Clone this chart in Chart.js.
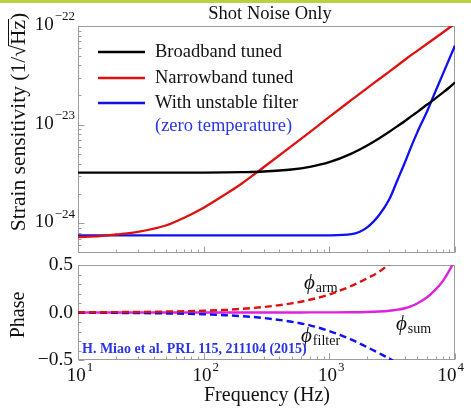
<!DOCTYPE html>
<html><head><meta charset="utf-8">
<script src="https://cdn.jsdelivr.net/npm/chart.js@4.4.1/dist/chart.umd.min.js"></script>
<style>
html,body{margin:0;padding:0;background:#fff;}
#wrap{position:relative;width:471px;height:408px;overflow:hidden;background:#fff;}
#band{position:absolute;left:0;top:0;width:471px;height:3px;background:#b9d23e;}
canvas{position:absolute;left:0;top:0;}
</style></head><body>
<div id="wrap"><div id="band"></div>
<canvas id="strain" width="471" height="408"></canvas>
<canvas id="phase" width="471" height="408"></canvas>
</div>
<script>
// Frequency grid (Hz)
const freq = [10, 15, 20, 30, 50, 70, 100, 150, 200, 300, 500, 700, 1000, 1500, 2000, 2500, 3000, 3500, 4000, 4500, 5000, 6000, 7000, 8000, 9000, 10000];

// Strain sensitivity, 1/sqrt(Hz)
const broadband = [3.26e-24, 3.26e-24, 3.26e-24, 3.26e-24, 3.26e-24, 3.27e-24, 3.27e-24, 3.28e-24, 3.30e-24, 3.35e-24, 3.51e-24, 3.74e-24, 4.17e-24, 5.09e-24, 6.15e-24, 7.29e-24, 8.48e-24, 9.69e-24, 1.09e-23, 1.22e-23, 1.34e-23, 1.60e-23, 1.85e-23, 2.11e-23, 2.38e-23, 2.68e-23];
const narrowband = [7.26e-25, 7.4e-25, 7.7e-25, 8.2e-25, 9.5e-25, 1.14e-24, 1.44e-24, 1.98e-24, 2.52e-24, 3.7e-24, 6.05e-24, 8.4e-24, 1.2e-23, 1.78e-23, 2.35e-23, 2.9e-23, 3.45e-23, 4.0e-23, 4.55e-23, 5.1e-23, 5.6e-23, 6.6e-23, 7.6e-23, 8.6e-23, 9.6e-23, 1.06e-22];
const unstableFilter = [7.55e-25, 7.55e-25, 7.55e-25, 7.55e-25, 7.55e-25, 7.55e-25, 7.55e-25, 7.55e-25, 7.55e-25, 7.55e-25, 7.55e-25, 7.55e-25, 7.56e-25, 7.75e-25, 9.1e-25, 1.22e-24, 1.75e-24, 2.78e-24, 4.16e-24, 6.06e-24, 8.3e-24, 1.37e-23, 2.18e-23, 3.25e-23, 4.63e-23, 6.35e-23];

// Phases (rad)
const phiArm = [0.002, 0.003, 0.004, 0.006, 0.010, 0.013, 0.019, 0.028, 0.038, 0.058, 0.096, 0.134, 0.19, 0.28, 0.36, 0.43, 0.51, 0.58, null, null, null, null, null, null, null, null];
const phiFilter = [-0.002, -0.003, -0.004, -0.006, -0.010, -0.013, -0.019, -0.029, -0.038, -0.058, -0.097, -0.135, -0.195, -0.285, -0.365, -0.43, -0.485, -0.54, null, null, null, null, null, null, null, null];
const phiSum = [0, 0, 0, 0, 0, 0, 0, 0, 0, 0, 0.0005, 0.0008, 0.001, 0.002, 0.005, 0.010, 0.018, 0.030, 0.045, 0.068, 0.095, 0.16, 0.24, 0.33, 0.44, 0.56];

// Axis ticks
const strainTicks = [1e-24, 1e-23, 1e-22];
const freqTicks = [10, 100, 1000, 10000];
const phaseTicks = [-0.5, 0, 0.5];

const SERIF = '"Liberation Serif", "Times New Roman", serif';
const FRAME = '#9c9c9c';
const BLACK = '#000000', RED = '#e01010', BLUE = '#1010f0', MAGENTA = '#dd22dd';
const LABEL_BLUE = '#2a35e6';

function pts(ys) {
  const out = [];
  ys.forEach((y, i) => { if (y !== null) out.push({x: freq[i], y}); });
  return out;
}

function logMinors(min, max) {
  const v = [];
  for (let e = Math.floor(Math.log10(min)) - 1; e <= Math.ceil(Math.log10(max)); e++) {
    for (let k = 2; k <= 9; k++) {
      const t = k * Math.pow(10, e);
      if (t > min * 1.0001 && t < max * 0.9999) v.push(t);
    }
  }
  return v;
}

function frameAndTicks(chart, yMajor, yMinor) {
  const {ctx, chartArea: a} = chart;
  const xs = chart.scales.x, ys = chart.scales.y;
  const L = Math.round(a.left) + 0.5, R = Math.round(a.right) - 0.5;
  const T = Math.round(a.top) + 0.5, B = Math.round(a.bottom) - 0.5;
  ctx.save();
  ctx.strokeStyle = FRAME;
  ctx.lineWidth = 1;
  ctx.strokeRect(L, T, R - L, B - T);
  ctx.beginPath();
  freqTicks.forEach(v => { const p = Math.round(xs.getPixelForValue(v)) + 0.5; ctx.moveTo(p, B); ctx.lineTo(p, B - 6); });
  logMinors(xs.min, xs.max).forEach(v => { const p = Math.round(xs.getPixelForValue(v)) + 0.5; ctx.moveTo(p, B); ctx.lineTo(p, B - 3); });
  yMajor.forEach(v => { const p = Math.round(ys.getPixelForValue(v)) + 0.5; ctx.moveTo(L, p); ctx.lineTo(L + 6, p); });
  yMinor.forEach(v => { const p = Math.round(ys.getPixelForValue(v)) + 0.5; ctx.moveTo(L, p); ctx.lineTo(L + 3, p); });
  ctx.stroke();
  ctx.restore();
}

// "10" with a raised exponent
function powLabel(ctx, exp, x, y, align, maxRight) {
  ctx.save();
  ctx.fillStyle = '#111';
  ctx.textBaseline = 'middle';
  ctx.textAlign = 'left';
  ctx.font = '19px ' + SERIF;
  const wb = ctx.measureText('10').width;
  ctx.font = '13px ' + SERIF;
  const we = ctx.measureText(exp).width;
  const total = wb + we + 1;
  let x0 = align === 'right' ? x - total : x - total / 2;
  if (maxRight !== undefined && x0 + total > maxRight) x0 = maxRight - total;
  ctx.font = '19px ' + SERIF;
  ctx.fillText('10', x0, y);
  ctx.font = '13px ' + SERIF;
  ctx.fillText(exp, x0 + wb + 1, y - 8);
  ctx.restore();
}

function sup(n) { return String(n).replace('-', '\u2212'); }

const strainDecor = {
  id: 'strainDecor',
  beforeDatasetsDraw(chart) {
    const ys = chart.scales.y;
    frameAndTicks(chart, strainTicks, logMinors(ys.min, ys.max));
  },
  afterDatasetsDraw(chart) {
    const {ctx} = chart;
    const ys = chart.scales.y;
    strainTicks.forEach(v => powLabel(ctx, sup(Math.round(Math.log10(v))), 75, ys.getPixelForValue(v) - 1, 'right'));

    ctx.save();
    // title
    ctx.fillStyle = '#111';
    ctx.font = '18.5px ' + SERIF;
    ctx.textAlign = 'center';
    ctx.textBaseline = 'middle';
    ctx.fillText('Shot Noise Only', 270, 14);

    // y axis title with sqrt overline
    ctx.translate(19, 122);
    ctx.rotate(-Math.PI / 2);
    ctx.font = '21.5px ' + SERIF;
    ctx.textAlign = 'left';
    const parts = ['Strain sensitivity (1/', '\u221A', 'Hz', ')'];
    const widths = parts.map(p => ctx.measureText(p).width);
    let x = -widths.reduce((s, w) => s + w, 0) / 2;
    parts.forEach((p, i) => {
      ctx.fillText(p, x, 0);
      if (i === 2) {
        ctx.fillRect(x - 1, -11, widths[2] + 2, 1);
      }
      x += widths[i];
    });
    ctx.restore();

    // legend
    ctx.save();
    const entries = chart.data.datasets;
    ctx.font = '18.5px ' + SERIF;
    ctx.textBaseline = 'middle';
    ctx.textAlign = 'left';
    const rows = [52, 78, 103];
    entries.forEach((ds, i) => {
      ctx.strokeStyle = ds.borderColor;
      ctx.lineWidth = 2.3;
      ctx.beginPath();
      ctx.moveTo(98, rows[i]);
      ctx.lineTo(145, rows[i]);
      ctx.stroke();
      ctx.fillStyle = '#111';
      ctx.fillText(ds.label, 155, rows[i]);
    });
    ctx.fillStyle = LABEL_BLUE;
    ctx.fillText('(zero temperature)', 155, 126);
    ctx.restore();
  }
};

function phiLabel(ctx, sub, x, y) {
  ctx.save();
  ctx.fillStyle = '#111';
  ctx.textBaseline = 'middle';
  ctx.textAlign = 'left';
  ctx.font = 'italic 21px ' + SERIF;
  ctx.fillText('\u03D5', x, y);
  const w = ctx.measureText('\u03D5').width;
  ctx.font = '14px ' + SERIF;
  ctx.fillText(sub, x + w + 1, y + 5);
  ctx.restore();
}

const phaseDecor = {
  id: 'phaseDecor',
  beforeDatasetsDraw(chart) {
    const minors = [];
    for (let k = -4; k <= 4; k++) if (k !== 0) minors.push(k / 10);
    frameAndTicks(chart, phaseTicks, minors);
  },
  afterDatasetsDraw(chart) {
    const {ctx} = chart;
    const xs = chart.scales.x, ys = chart.scales.y;
    ctx.save();
    ctx.fillStyle = '#111';
    ctx.font = '19.5px ' + SERIF;
    ctx.textAlign = 'right';
    ctx.textBaseline = 'middle';
    phaseTicks.forEach(v => {
      const s = v === 0 ? '0.0' : (v < 0 ? '\u2212' : '') + Math.abs(v).toFixed(1);
      ctx.fillText(s, 73, ys.getPixelForValue(v));
    });
    ctx.restore();

    freqTicks.forEach(v => powLabel(ctx, String(Math.round(Math.log10(v))), xs.getPixelForValue(v) + 2, 376, 'center', 464));

    ctx.save();
    ctx.fillStyle = '#111';
    ctx.font = '20px ' + SERIF;
    ctx.textAlign = 'center';
    ctx.textBaseline = 'middle';
    ctx.fillText('Frequency (Hz)', 267, 396);
    ctx.translate(19, 315);
    ctx.rotate(-Math.PI / 2);
    ctx.fillText('Phase', 0, 0);
    ctx.restore();

    phiLabel(ctx, 'arm', 304, 283);
    phiLabel(ctx, 'sum', 396, 324);
    phiLabel(ctx, 'filter', 301, 336);

    ctx.save();
    ctx.fillStyle = LABEL_BLUE;
    ctx.font = 'bold 14px ' + SERIF;
    ctx.textAlign = 'left';
    ctx.textBaseline = 'middle';
    ctx.fillText('H. Miao et al. PRL 115, 211104 (2015)', 82, 349);
    ctx.restore();
  }
};

const hiddenScale = (type, min, max) => ({
  type, min, max, display: false
});

new Chart(document.getElementById('strain'), {
  type: 'line',
  data: {
    datasets: [
      {label: 'Broadband tuned', data: pts(broadband), borderColor: BLACK},
      {label: 'Narrowband tuned', data: pts(narrowband), borderColor: RED},
      {label: 'With unstable filter', data: pts(unstableFilter), borderColor: BLUE}
    ]
  },
  options: {
    responsive: false, animation: false, devicePixelRatio: 1,
    elements: {
      line: {borderWidth: 2.3, cubicInterpolationMode: 'monotone', fill: false},
      point: {radius: 0, hoverRadius: 0}
    },
    layout: {padding: {left: 78, top: 26, right: 16, bottom: 155}},
    scales: {
      x: hiddenScale('logarithmic', 10, 10000),
      y: hiddenScale('logarithmic', 5e-25, 1e-22)
    },
    plugins: {legend: {display: false}, tooltip: {enabled: false}, title: {display: false}}
  },
  plugins: [strainDecor]
});

new Chart(document.getElementById('phase'), {
  type: 'line',
  data: {
    datasets: [
      {label: 'phi arm', data: pts(phiArm), borderColor: RED, borderDash: [7, 4]},
      {label: 'phi filter', data: pts(phiFilter), borderColor: BLUE, borderDash: [7, 4]},
      {label: 'phi sum', data: pts(phiSum), borderColor: MAGENTA}
    ]
  },
  options: {
    responsive: false, animation: false, devicePixelRatio: 1,
    elements: {
      line: {borderWidth: 2.4, cubicInterpolationMode: 'monotone', fill: false},
      point: {radius: 0, hoverRadius: 0}
    },
    layout: {padding: {left: 78, top: 265, right: 16, bottom: 48}},
    scales: {
      x: hiddenScale('logarithmic', 10, 10000),
      y: hiddenScale('linear', -0.5, 0.5)
    },
    plugins: {legend: {display: false}, tooltip: {enabled: false}, title: {display: false}}
  },
  plugins: [phaseDecor]
});
</script>
</body></html>
